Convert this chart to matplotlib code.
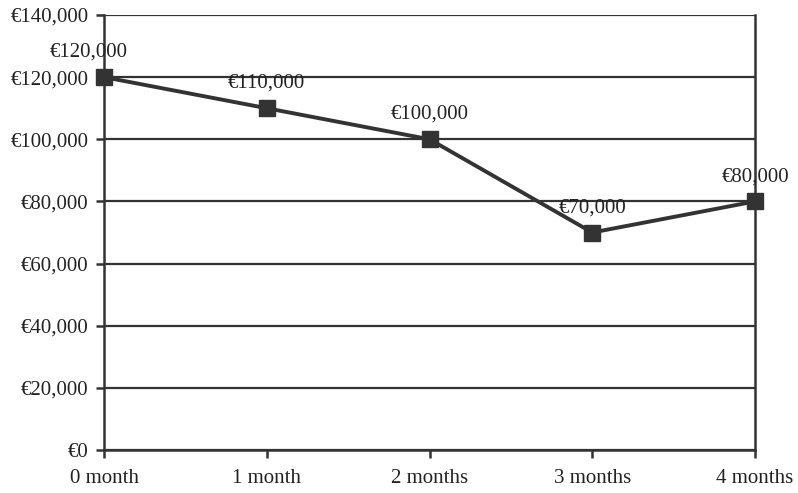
import matplotlib
matplotlib.use("Agg")
import matplotlib.pyplot as plt
from matplotlib.ticker import FuncFormatter

periods = ["0 month", "1 month", "2 months", "3 months", "4 months"]
values = [120000, 110000, 100000, 70000, 80000]
yticks = [0, 20000, 40000, 60000, 80000, 100000, 120000, 140000]

dark = "#333333"
plt.rcParams["font.family"] = ["Liberation Serif", "DejaVu Serif"]

fig = plt.figure(figsize=(7.98, 4.93), dpi=100)
ax = fig.add_axes([104 / 798, 1 - 450 / 493, 651 / 798, 435 / 493])

x = list(range(len(periods)))
ax.plot(x, values, color=dark, lw=2.8, marker="s", markersize=12,
        markerfacecolor=dark, markeredgecolor=dark, zorder=3, clip_on=False)

def euro(v, pos=None):
    return "€{:,.0f}".format(v)

# first label nudged left so it sits over the axis corner
nudge = [-11, 0, 0, 0, 0]
for xi, v, dx in zip(x, values, nudge):
    ax.annotate(euro(v), (xi, v), xytext=(dx, 11), textcoords="offset points",
                ha="center", va="bottom", fontsize=15, color="#222222")

ax.set_xlim(0, 4)
ax.set_ylim(0, 140000)
ax.set_yticks(yticks)
ax.yaxis.set_major_formatter(FuncFormatter(euro))
ax.set_xticks(x)
ax.set_xticklabels(periods)

ax.grid(axis="y", color=dark, lw=1.6)
ax.set_axisbelow(True)
ax.spines["top"].set_visible(False)
for side in ["left", "right", "bottom"]:
    ax.spines[side].set_color(dark)
    ax.spines[side].set_linewidth(1.8)

ax.tick_params(axis="both", colors=dark, width=1.8, length=6, labelsize=15,
               labelcolor="#222222")
ax.tick_params(axis="y", pad=5)
ax.tick_params(axis="x", pad=8)

fig.savefig("out.png", dpi=100)
